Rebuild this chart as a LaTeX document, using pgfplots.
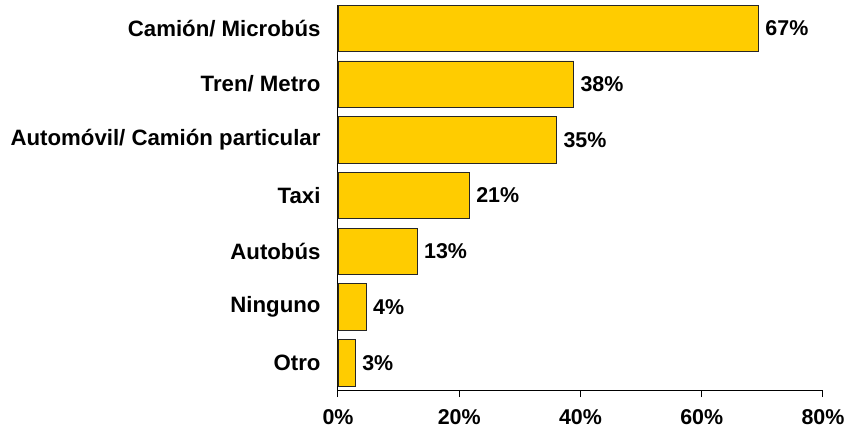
\documentclass[border=0pt]{standalone}
\usepackage{pgfplots}
\pgfplotsset{compat=1.18}
\usepackage{fontspec}
\setmainfont{Liberation Sans}
\definecolor{baryellow}{HTML}{FFCC00}
\begin{document}
\begin{tikzpicture}
\path[use as bounding box] (-338bp,-45bp) rectangle (527bp,390bp);
\begin{axis}[
  at={(0,0)}, anchor=south west,
  scale only axis, width=485bp, height=385bp,
  xmin=0, xmax=80, ymin=-0.49, ymax=6.42,
  axis x line*=bottom, axis y line*=left,
  axis line style={black, line width=1bp},
  xtick={0,20,40,60,80},
  xticklabel={\pgfmathprintnumber{\tick}\%},
  ytick={0,1,2,3,4,5,6},
  yticklabels={Otro, Ninguno, Autobús, Taxi, Automóvil/ Camión particular, Tren/ Metro, Camión/ Microbús},
  major tick length=7bp,
  tick align=outside,
  x tick style={black, line width=1bp},
  y tick style={draw=none},
  xticklabel style={font=\fontsize{21.5}{24}\selectfont\bfseries, yshift=-9bp},
  yticklabel style={font=\fontsize{22.3}{26}\selectfont\bfseries, xshift=-7bp},
  /pgf/number format/assume math mode=true,
  xbar, bar width=0.833,
  point meta=explicit,
  nodes near coords={\pgfmathprintnumber{\pgfplotspointmeta}\%},
  every node near coord/.append style={font=\fontsize{21.5}{24}\selectfont\bfseries, black, anchor=west, xshift=3bp},
]
\addplot[fill=baryellow, draw=black!85, line width=0.8bp] coordinates {
  (2.9,0) [3]
  (4.7,1) [4]
  (13.1,2) [13]
  (21.7,3) [21]
  (36.1,4) [35]
  (38.9,5) [38]
  (69.4,6) [67]
};
\end{axis}
\end{tikzpicture}
\end{document}
